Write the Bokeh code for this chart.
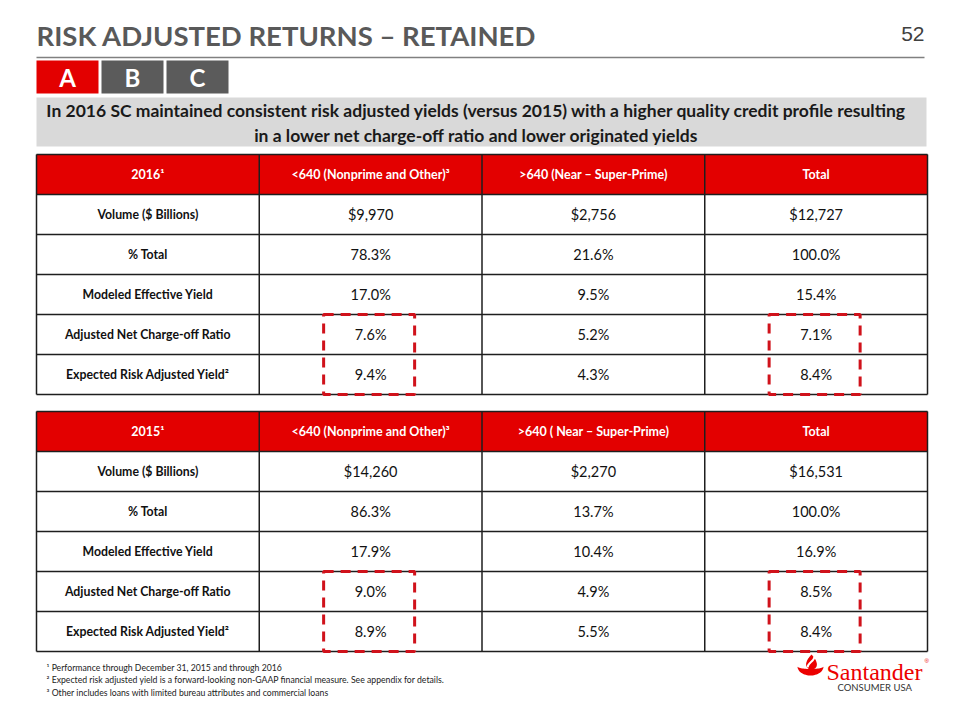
import numpy as np
from bokeh.plotting import figure
from bokeh.models import Range1d, ColumnDataSource
from bokeh.core.properties import value
from bokeh.embed import file_html
from bokeh.resources import INLINE

# ---------------- data ----------------
title = "RISK ADJUSTED RETURNS – RETAINED"
page_no = "52"
tabs = ["A", "B", "C"]
active_tab = "A"
banner_lines = [
    "In 2016 SC maintained consistent risk adjusted yields (versus 2015) with a higher quality credit profile resulting",
    "in a lower net charge-off ratio and lower originated yields",
]
metrics = ["Volume ($ Billions)", "% Total", "Modeled Effective Yield",
           "Adjusted Net Charge-off Ratio", "Expected Risk Adjusted Yield²"]
headers_2016 = ["2016¹", "<640 (Nonprime and Other)³", ">640 (Near – Super-Prime)", "Total"]
headers_2015 = ["2015¹", "<640 (Nonprime and Other)³", ">640 ( Near – Super-Prime)", "Total"]

volume_2016 = [9970, 2756, 12727]
pct_total_2016 = [78.3, 21.6, 100.0]
yield_2016 = [17.0, 9.5, 15.4]
nco_2016 = [7.6, 5.2, 7.1]
rar_2016 = [9.4, 4.3, 8.4]

volume_2015 = [14260, 2270, 16531]
pct_total_2015 = [86.3, 13.7, 100.0]
yield_2015 = [17.9, 10.4, 16.9]
nco_2015 = [9.0, 4.9, 8.5]
rar_2015 = [8.9, 5.5, 8.4]

highlight_rows = [3, 4]
highlight_cols = [0, 2]

footnotes = [
    "¹ Performance  through December  31, 2015 and through 2016",
    "² Expected risk adjusted yield  is a forward-looking non-GAAP financial measure.  See appendix for details.",
    "³ Other includes loans with limited bureau attributes and commercial  loans",
]
brand = "Santander"
brand_sub = "CONSUMER USA"

# ---------------- style ----------------
RED = "#e30000"
GRAY_TAB = "#5b5b5b"
TITLE_C = "#595959"
BANNER = "#d9d9d9"
DASH_RED = "#d0121b"
FONT = "Lato"

p = figure(width=944, height=704, output_backend="svg", toolbar_location=None,
           x_range=Range1d(0, 944), y_range=Range1d(704, 0),
           min_border=0, background_fill_color="white", border_fill_color="white")
p.axis.visible = False
p.grid.visible = False
p.outline_line_color = None

def txt(x, y, s, size, color="#111111", style="normal", align="center", font=FONT, baseline="middle"):
    p.text(x=[x], y=[y], text=[s], text_font=value(font), text_font_size=f"{size}px",
           text_font_style=style, text_color=color, text_align=align, text_baseline=baseline)

# title, page number, rule
txt(36, 35, title, 27.5, TITLE_C, "bold", "left")
txt(924, 33, page_no, 21, "#404040", "normal", "right", "Liberation Sans")
p.segment(x0=[36], y0=[57], x1=[924], y1=[57], line_color="#808080", line_width=1.5)

# tabs
tab_w, tab_gap = 62, 3
tl = [36 + i * (tab_w + tab_gap) for i in range(len(tabs))]
p.quad(left=tl, right=[l + tab_w for l in tl], top=[60] * 3, bottom=[93] * 3,
       fill_color=[RED if t == active_tab else GRAY_TAB for t in tabs], line_color=None)
p.text(x=[l + tab_w / 2 for l in tl], y=[77] * 3, text=tabs, text_font=value(FONT),
       text_font_size="24px", text_font_style="bold", text_color="white",
       text_align="center", text_baseline="middle")

# banner
p.quad(left=[36], right=[926], top=[97], bottom=[146], fill_color=BANNER, line_color=None)
for i, line in enumerate(banner_lines):
    txt(476, 110 + i * 24.5, line, 17.5, "#1a1a1a", "bold")

# tables
X0, X1 = 36, 927
edges = np.linspace(X0, X1, 5)
RH = 40

def fmt_rows(vol, pct, yl, nco, rar):
    return [["${:,}".format(v) for v in vol],
            ["{:.1f}%".format(v) for v in pct],
            ["{:.1f}%".format(v) for v in yl],
            ["{:.1f}%".format(v) for v in nco],
            ["{:.1f}%".format(v) for v in rar]]

def draw_table(top, headers, rows):
    nrows = len(rows)
    bottom = top + RH * (nrows + 1)
    p.quad(left=[X0], right=[X1], top=[top], bottom=[top + RH], fill_color=RED, line_color=None)
    ys = [top + RH * i for i in range(1, nrows + 1)]
    p.segment(x0=[X0] * len(ys), y0=ys, x1=[X1] * len(ys), y1=ys, line_color="#1e1e1e", line_width=1.5)
    p.segment(x0=list(edges), y0=[top] * 5, x1=list(edges), y1=[bottom] * 5, line_color="#1e1e1e", line_width=1.5)
    p.segment(x0=[X0, X0], y0=[top, bottom], x1=[X1, X1], y1=[top, bottom], line_color="#1e1e1e", line_width=1.5)
    centers = [(edges[i] + edges[i + 1]) / 2 for i in range(4)]
    p.text(x=centers, y=[top + RH / 2] * 4, text=headers, text_font=value(FONT),
           text_font_size="12.5px", text_font_style="bold", text_color="white",
           text_align="center", text_baseline="middle")
    for r in range(nrows):
        yc = top + RH * (r + 1) + RH / 2
        txt(centers[0], yc, metrics[r], 12.3, "#111111", "bold")
        p.text(x=centers[1:], y=[yc] * 3, text=rows[r], text_font=value(FONT),
               text_font_size="14.5px", text_color="#111111",
               text_align="center", text_baseline="middle")
    hb_top = top + RH * (highlight_rows[0] + 1)
    hb_bot = top + RH * (highlight_rows[-1] + 2)
    for c in highlight_cols:
        cx = centers[c + 1] - 1.5
        p.quad(left=[cx - 45.5], right=[cx + 45.5], top=[hb_top], bottom=[hb_bot],
               fill_color=None, line_color=DASH_RED, line_width=3, line_dash="10 7")

draw_table(154, headers_2016, fmt_rows(volume_2016, pct_total_2016, yield_2016, nco_2016, rar_2016))
draw_table(411, headers_2015, fmt_rows(volume_2015, pct_total_2015, yield_2015, nco_2015, rar_2015))

# footnotes
for i, f in enumerate(footnotes):
    txt(46, 667 + i * 12.3, f, 8.7, "#222222", "normal", "left")

# logo
lx, ly = 810, 666
t = np.linspace(0, np.pi, 30)
bx = list(lx + 13 * np.cos(t)) + list(lx + 13 * np.cos(t[::-1]))
by = list(ly + 9 * np.sin(t)) + list(ly + 2.5 * np.sin(t[::-1]))
p.patch(bx, by, fill_color="#ec0000", line_color=None)
tt = np.linspace(0, 2 * np.pi, 60)
fx = lx + 1 + 7 * np.sin(tt) * np.sin(tt / 2)
fy = ly - 12 + 15 * (1 - np.cos(tt)) / 2
p.patch(list(fx), list(fy), fill_color="#ec0000", line_color=None)
p.bezier(x0=[lx - 3], y0=[ly + 1], x1=[lx + 4], y1=[ly - 10], cx0=[lx - 3], cy0=[ly - 4],
         cx1=[lx + 4], cy1=[ly - 5], line_color="white", line_width=2)
txt(826, 671, brand, 24, "#ec0000", "normal", "left", "Liberation Serif", "alphabetic")
txt(924, 660, "®", 6, "#ec0000", "normal", "left", "Liberation Sans")
txt(837, 687, brand_sub, 9.5, "#333333", "normal", "left")

open("out.html", "w").write(file_html(p, INLINE))
